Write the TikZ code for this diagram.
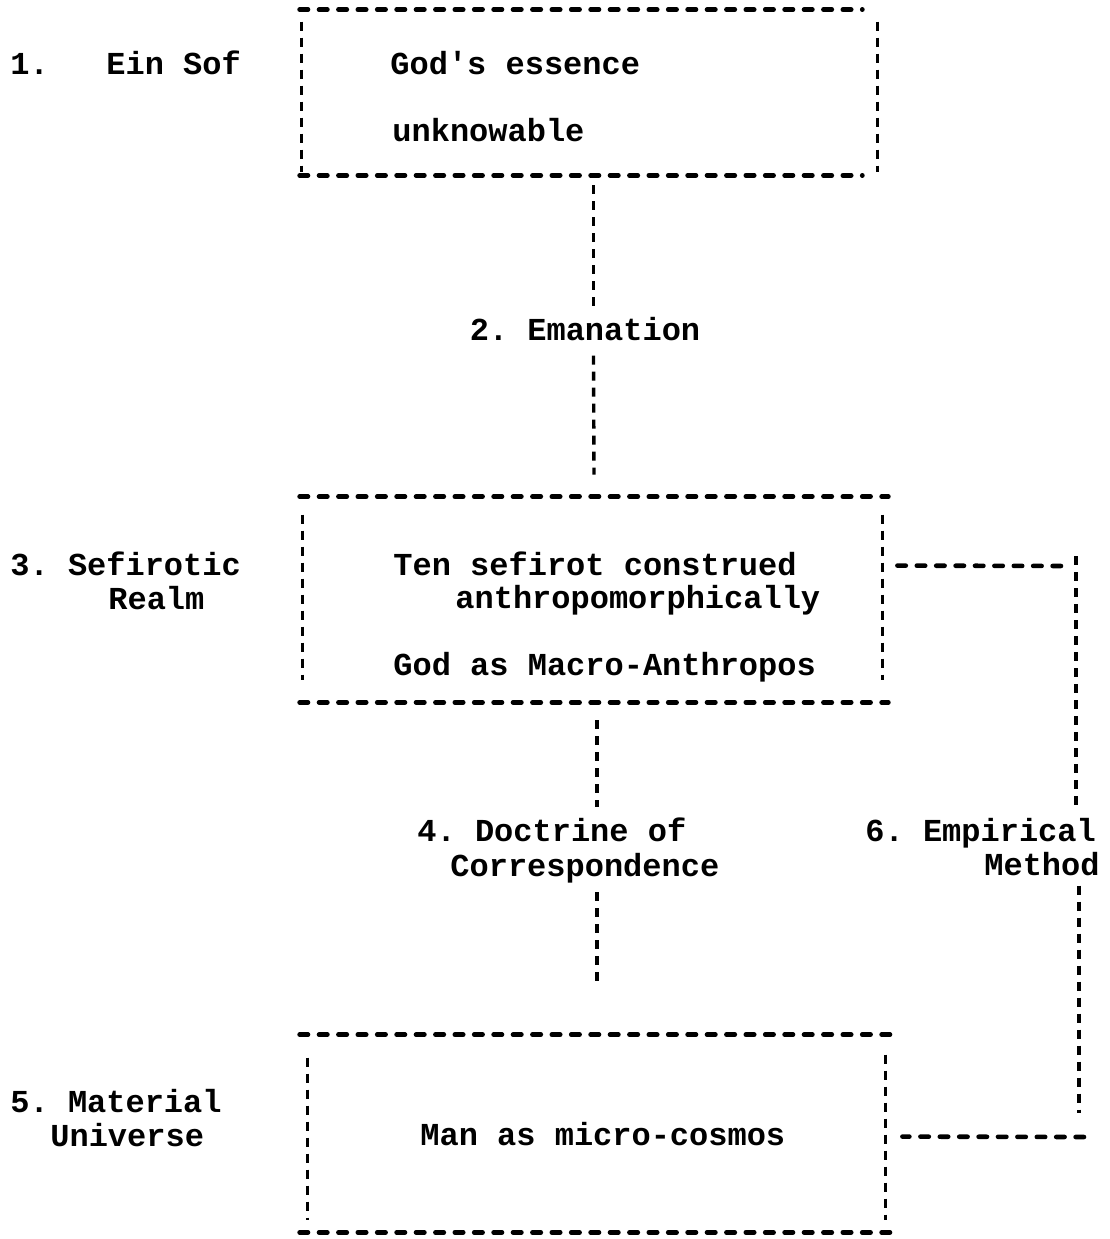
\documentclass[tikz,border=0pt]{standalone}
\usepackage{fontspec}
\setmonofont{Liberation Mono}
\usetikzlibrary{calc,fit}
\begin{document}
\begin{tikzpicture}[x=0.5pt,y=-0.5pt,
  hline/.style={line width=2.3pt, line cap=round, dash pattern=on 4.2pt off 5.5pt},
  vline/.style={line width=1.7pt, dash pattern=on 4.5pt off 3.5pt},
  lbl/.style={font=\ttfamily\bfseries\fontsize{16pt}{19pt}\selectfont, inner sep=0pt, anchor=base west},
  lblr/.style={lbl, anchor=base east},
  boxarea/.style={inner sep=0pt, draw=none}]
\fill[white] (0,0) rectangle (1110,1239);
\useasboundingbox (0,0) rectangle (1110,1239);

% ---------- boxes ----------
\node[boxarea, fit={(300,10) (877,175)}] (b1) {};
\node[boxarea, fit={(300,497) (888,702)}] (b2) {};
\node[boxarea, fit={(300,1035) (890,1232)}] (b3) {};

% box 1
\draw[hline] (b1.north west) -- ($(b1.north east)+(-15,0)$);
\draw[hline] (b1.south west) -- ($(b1.south east)+(-15,0)$);
\draw[vline] ($(b1.north west)+(2,12)$) -- ($(b1.south west)+(2,-3)$);
\draw[vline] ($(b1.north east)+(0,12)$) -- ($(b1.south east)+(0,-3)$);
% box 2
\draw[hline] (b2.north west) -- (b2.north east);
\draw[hline] (b2.south west) -- (b2.south east);
\draw[vline] ($(b2.north west)+(3,18)$) -- ($(b2.south west)+(3,-22)$);
\draw[vline] ($(b2.north east)+(-6,18)$) -- ($(b2.south east)+(-6,-22)$);
% box 3
\draw[hline] (b3.north west) -- (b3.north east);
\draw[hline] (b3.south west) -- (b3.south east);
\draw[vline] ($(b3.north west)+(8,23)$) -- ($(b3.south west)+(8,-12)$);
\draw[vline] ($(b3.north east)+(-5,20)$) -- ($(b3.south east)+(-5,-12)$);

% ---------- texts ----------
\node[lbl] (l1) at (10,74) {1.\ \ \ Ein Sof};
\node[lbl] (t1a) at (390,74) {God's essence};
\node[lbl] (t1b) at (392,141) {unknowable};

\node[lbl, anchor=base] (e2) at (585,340) {2. Emanation};

\node[lbl] (l3a) at (10,575) {3. Sefirotic};
\node[lbl] (l3b) at (108,609) {Realm};
\node[lbl] (t2a) at (393,575) {Ten sefirot construed};
\node[lbl] (t2b) at (455,608) {anthropomorphically};
\node[lbl] (t2c) at (393,675) {God as Macro-Anthropos};

\node[lbl] (d4a) at (417,841) {4. Doctrine of};
\node[lbl] (d4b) at (450,876) {Correspondence};

\node[lbl] (m6a) at (865,841) {6. Empirical};
\node[lblr] (m6b) at (1100,875) {Method};

\node[lbl] (l5a) at (10,1112) {5. Material};
\node[lbl] (l5b) at (50,1146) {Universe};
\node[lbl] (t3) at (420,1145) {Man as micro-cosmos};

% ---------- connectors ----------
\draw[vline] ($(b1.south)+(5,10)$) -- ($(e2.north -| b1.south)+(5,-9)$);
\draw[vline] ($(e2.south -| b1.south)+(5,15)$) -- ($(b2.north)+(0,-22)$);

\draw[vline] ($(b2.south)+(3,18)$) -- ($(d4a.north -| b2.south)+(3,-10)$);
\draw[vline] ($(d4b.south -| b2.south)+(3,9)$) -- ($(b3.north)+(2,-50)$);

\coordinate (rc1) at (1076,566);
\coordinate (rc2) at (1079,1137);
\draw[hline] ($(b2.north east)+(9,69)$) -- ($(rc1)+(-8,0)$);
\draw[vline] ($(rc1)+(0,-10)$) -- ($(m6a.north -| rc1)+(0,-8)$);
\draw[vline] ($(m6b.south -| rc2)+(0,10)$) -- ($(rc2)+(0,-24)$);
\draw[hline] ($(rc2)+(5,0)$) -- ($(b3.north east)+(12,102)$);
\end{tikzpicture}
\end{document}
